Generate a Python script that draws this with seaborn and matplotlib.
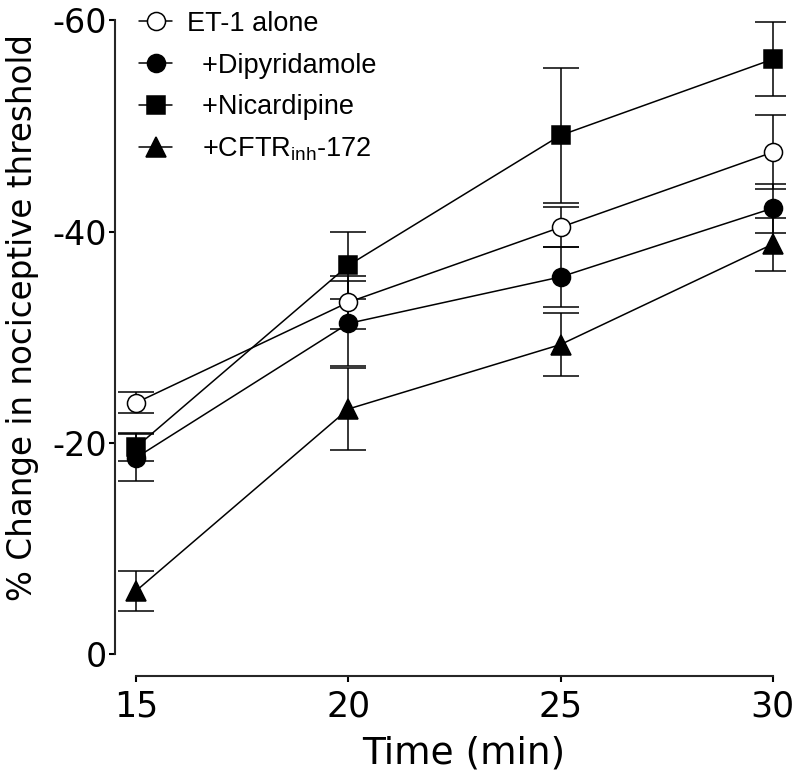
"""
Change in nociceptive threshold over time, ET-1 alone vs. ET-1 + inhibitors.
"""

import matplotlib.pyplot as plt
import pandas as pd
import seaborn as sns

# ── Data (y is % change, negative = drop) ────────────────────────────────────
time_min = [15, 20, 25, 30]

et1_alone = [-23.8, -33.3, -40.4, -47.5]
et1_alone_sem = [1.0, 2.5, 1.9, 3.5]

dipyridamole = [-18.6, -31.3, -35.7, -42.2]
dipyridamole_sem = [2.2, 4.0, 2.8, 2.3]

nicardipine = [-19.6, -36.8, -49.1, -56.3]
nicardipine_sem = [1.3, 3.2, 6.4, 3.5]

cftr_inh = [-6.0, -23.2, -29.3, -38.8]
cftr_inh_sem = [1.9, 3.9, 3.0, 2.5]

labels = ["ET-1 alone", "  +Dipyridamole", "  +Nicardipine", "  +CFTR$_\\mathregular{inh}$-172"]
markers = ["o", "o", "s", "^"]
facecolors = ["white", "black", "black", "black"]

series = [et1_alone, dipyridamole, nicardipine, cftr_inh]
errors = [et1_alone_sem, dipyridamole_sem, nicardipine_sem, cftr_inh_sem]

# ── Plot ──────────────────────────────────────────────────────────────────────
sns.set_style("ticks")
plt.rcParams["font.family"] = ["DejaVu Sans"]
plt.rcParams["text.color"] = "black"
plt.rcParams["axes.labelcolor"] = "black"
plt.rcParams["xtick.color"] = "black"
plt.rcParams["ytick.color"] = "black"
plt.rcParams["mathtext.fontset"] = "custom"
plt.rcParams["mathtext.rm"] = "Liberation Sans"

fig = plt.figure(figsize=(8, 7.84), dpi=100)
ax = fig.add_axes([0.14375, 0.138, 0.838, 0.843])

for i, (lab, vals, err) in enumerate(zip(labels, series, errors)):
    df = pd.DataFrame({"time": time_min, "value": vals})
    ax.errorbar(df["time"], df["value"], yerr=err, fmt="none", ecolor="black",
                elinewidth=1.1, capsize=13, capthick=1.1, zorder=2)
    sns.lineplot(data=df, x="time", y="value", ax=ax, color="black", lw=1.1,
                 marker=markers[i], markersize=13 if markers[i] != "^" else 14,
                 markerfacecolor=facecolors[i], markeredgecolor="black",
                 markeredgewidth=1.1, label=lab, zorder=3 + i)

ax.set_xlim(14.5, 30.3)
ax.set_ylim(2.05, -60.5)
ax.set_xticks(time_min)
ax.set_yticks([0, -20, -40, -60])
ax.set_yticklabels(["0", "-20", "-40", "-60"])

for side in ["top", "right"]:
    ax.spines[side].set_visible(False)
ax.spines["left"].set_bounds(0, -60)
ax.spines["bottom"].set_bounds(15, 30)
ax.spines["left"].set_linewidth(1.5)
ax.spines["bottom"].set_linewidth(1.5)
ax.tick_params(axis="both", direction="out", length=4.5, width=1.5)
ax.tick_params(axis="x", labelsize=25, pad=5)
ax.tick_params(axis="y", labelsize=24, pad=1)

ax.set_xlabel("Time (min)", fontsize=27)
ax.xaxis.set_label_coords(0.52, -0.09)
ax.set_ylabel("% Change in nociceptive threshold", fontsize=23.5)
ax.yaxis.set_label_coords(-0.113, 0.542)

ax.legend(loc="upper left", bbox_to_anchor=(0.0, 1.043), frameon=False,
          prop={"family": "Liberation Sans", "size": 19.5},
          handlelength=1.2, handletextpad=0.55, labelspacing=0.58)

fig.savefig("out.png", dpi=100)
